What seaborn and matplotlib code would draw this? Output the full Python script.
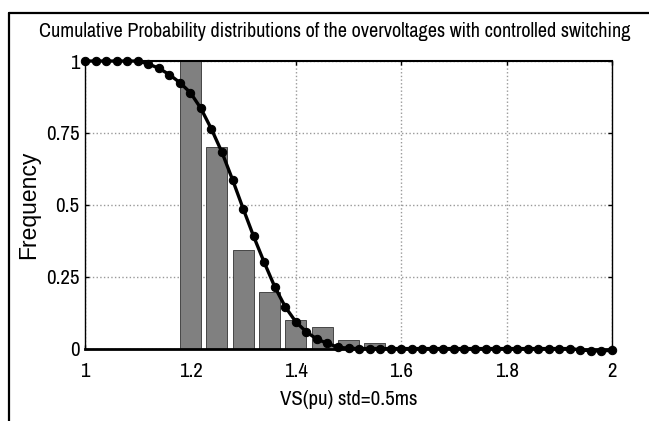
import numpy as np
import pandas as pd
import matplotlib
matplotlib.use("Agg")
import matplotlib.pyplot as plt
from matplotlib.lines import Line2D
import seaborn as sns

# ---- data ----
bar_centers = [1.20, 1.25, 1.30, 1.35, 1.40, 1.45, 1.50, 1.55]
bar_heights = [1.00, 0.70, 0.342, 0.197, 0.10, 0.074, 0.031, 0.018]

curve_x = [round(1.0 + 0.02 * i, 2) for i in range(51)]
curve_y = [1.0, 1.0, 1.0, 1.0, 1.0, 1.0,
           0.99, 0.975, 0.953, 0.925, 0.89, 0.835, 0.763, 0.682, 0.587, 0.487,
           0.39, 0.30, 0.215, 0.145, 0.093, 0.058, 0.033, 0.018, 0.005, 0.001,
           0.0, 0.0, 0.0, 0.0, 0.0, 0.0, 0.0, 0.0, 0.0, 0.0, 0.0,
           0.0, 0.0, 0.0, 0.0, 0.0, 0.0, 0.0, 0.0, 0.0, 0.0,
           -0.004, -0.008, -0.008, -0.006]

x_ticks = [1.0, 1.2, 1.4, 1.6, 1.8, 2.0]
x_ticklabels = ["1", "1.2", "1.4", "1.6", "1.8", "2"]
y_ticks = [0, 0.25, 0.5, 0.75, 1.0]
y_ticklabels = ["0", "0.25", "0.5", "0.75", "1"]

title = "Cumulative Probability distributions of the overvoltages with controlled switching"
xlabel = "VS(pu) std=0.5ms"
ylabel = "Frequency"

bars_df = pd.DataFrame({"v": bar_centers, "h": bar_heights})
curve_df = pd.DataFrame({"v": curve_x, "p": curve_y})

sns.set_theme(style="white")
narrow = ["Archivo Narrow", "Roboto Condensed", "Liberation Sans", "DejaVu Sans"]
plt.rcParams["font.family"] = narrow

fig = plt.figure(figsize=(6.49, 4.21), dpi=100)
ax = fig.add_axes([0.131, 0.172, 0.812, 0.683])

edges = [1.175 + 0.05 * i for i in range(len(bar_centers) + 1)]
sns.histplot(data=bars_df, x="v", weights="h", bins=edges, shrink=0.8,
             color="#808080", edgecolor="#333333", linewidth=0.6, alpha=1.0,
             ax=ax, zorder=2)

sns.lineplot(data=curve_df, x="v", y="p", color="black", linewidth=2.4,
             marker="o", markersize=6, markeredgecolor="black",
             markerfacecolor="black", ax=ax, zorder=4, clip_on=False)

ax.set_xlim(1, 2)
ax.set_ylim(0, 1)
ax.set_xticks(x_ticks)
ax.set_xticklabels(x_ticklabels)
ax.set_yticks(y_ticks)
ax.set_yticklabels(y_ticklabels)
ax.tick_params(axis="both", direction="in", length=3, width=1, color="black",
               labelsize=15, labelcolor="black", top=True, right=True,
               bottom=True, left=True)
ax.tick_params(axis="x", pad=10)
ax.tick_params(axis="y", pad=4)
ax.grid(True, color="#999999", linestyle=":", linewidth=1.0, zorder=0)
ax.set_axisbelow(True)
for s in ax.spines.values():
    s.set_visible(True)
    s.set_color("black")
    s.set_linewidth(1.0)
ax.spines["bottom"].set_linewidth(2.0)
ax.spines["top"].set_linewidth(1.5)

ax.set_title(title, fontsize=14.5, pad=17, color="black")
ax.title.set_x(0.474)
ax.set_xlabel(xlabel, fontsize=15, labelpad=6, color="black")
ax.set_ylabel(ylabel, fontsize=16.5, labelpad=4, color="black",
              family=["Liberation Sans", "DejaVu Sans"])

# outer frame (top and left visible)
fig.add_artist(Line2D([0.0146, 1.0], [0.970, 0.970], color="black", linewidth=1.6,
                      transform=fig.transFigure))
fig.add_artist(Line2D([0.0146, 0.0146], [0.0, 0.970], color="black", linewidth=1.6,
                      transform=fig.transFigure))

fig.savefig("out.png", dpi=100)
